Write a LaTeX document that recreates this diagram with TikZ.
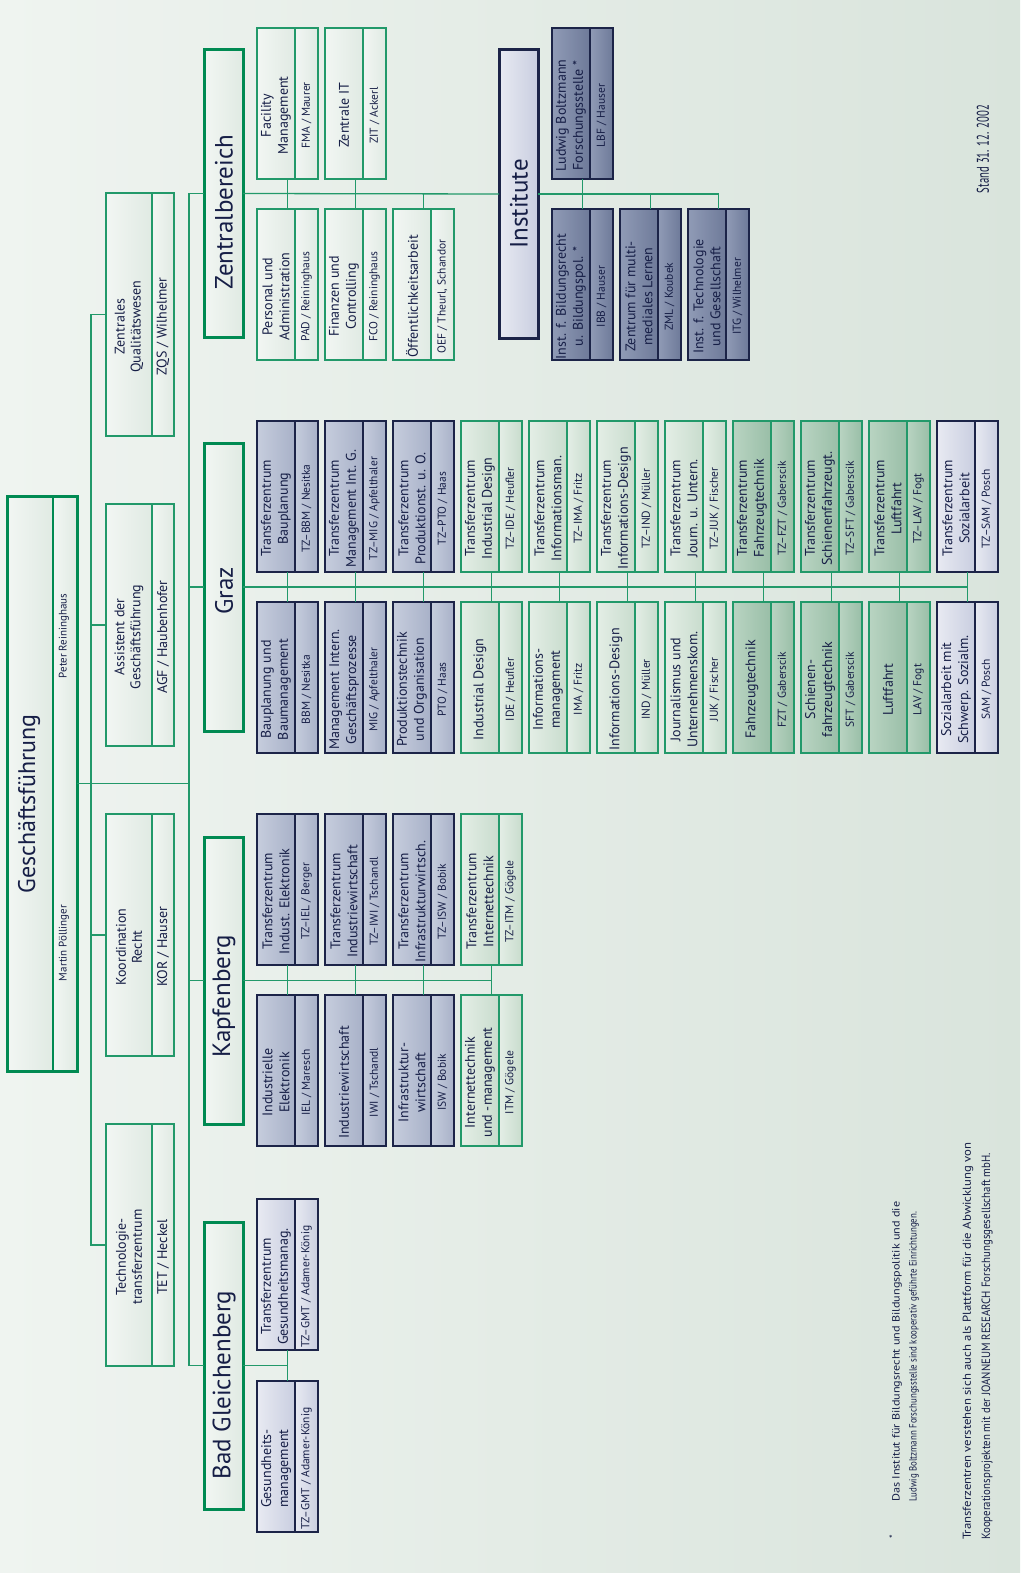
\documentclass[tikz,border=0pt]{standalone}
\usepackage{fontspec}
\usepackage{graphicx}
\setmainfont{PT Sans}
\usetikzlibrary{calc}

\definecolor{grn}{HTML}{22996A}
\definecolor{grnD}{HTML}{008A52}
\definecolor{navy}{HTML}{1C2448}
\definecolor{ink}{HTML}{161E46}
\definecolor{bgL}{HTML}{EFF4F0}
\definecolor{bgR}{HTML}{D9E4DC}
\definecolor{F2F6F3}{HTML}{F2F6F3}
\definecolor{E0EAE3}{HTML}{E0EAE3}
\definecolor{cBgL}{HTML}{C6CDDD}
\definecolor{cBgR}{HTML}{A8B1C8}
\definecolor{cBiL}{HTML}{909BB6}
\definecolor{cBiR}{HTML}{6E7A99}
\definecolor{cBlL}{HTML}{E8EAF2}
\definecolor{cBlR}{HTML}{C9CEE0}
\definecolor{cGlL}{HTML}{E4EEE6}
\definecolor{cGlR}{HTML}{C8DCCD}
\definecolor{cGmL}{HTML}{B9D4C2}
\definecolor{cGmR}{HTML}{99BEA7}

\tikzset{
  conn/.style={draw=grn, line width=1.3pt},
  boxframe/.style={draw, line width=1.3pt, inner sep=0pt, outer sep=0pt},
  thickframe/.style={draw, line width=3pt, inner sep=0pt, outer sep=0pt},
  maintxt/.style={rotate=90, align=center, text=ink, inner sep=0pt, font=\fontsize{14}{17}\selectfont},
  codetxt/.style={rotate=90, text=ink, inner sep=0pt, font=\fontsize{11.5}{13}\selectfont},
  stafftxt/.style={rotate=90, align=center, text=ink, inner sep=0pt, font=\fontsize{14}{16}\selectfont},
  staffcode/.style={rotate=90, text=ink, inner sep=0pt, font=\fontsize{14}{16}\selectfont},
  headtxt/.style={rotate=90, text=ink, inner sep=0pt, font=\fontsize{25}{28}\selectfont},
  notetxt/.style={rotate=90, anchor=west, text=ink, inner sep=0pt},
  % fills and rims of the box families
  pal gpale/.style={left color=F2F6F3, right color=E0EAE3},
  rim gpale/.style={draw=grn},
  pal bgray/.style={left color=cBgL, right color=cBgR},
  rim bgray/.style={draw=navy},
  pal binst/.style={left color=cBiL, right color=cBiR},
  rim binst/.style={draw=navy},
  pal blav/.style={left color=cBlL, right color=cBlR},
  rim blav/.style={draw=navy},
  pal glight/.style={left color=cGlL, right color=cGlR},
  rim glight/.style={draw=grn},
  pal gmed/.style={left color=cGmL, right color=cGmR},
  rim gmed/.style={draw=grn},
}

% standard unit box: name, left, top, palette, main text, code text
\newcommand\ubox[6]{%
  \shade[pal #4] (#2,#3) rectangle ++(38,151);
  \shade[pal #4] (#2+38,#3) rectangle ++(23,151);
  \node[boxframe, rim #4, minimum width=61pt, minimum height=151pt, anchor=north west] (#1) at (#2,#3) {};
  \draw[rim #4, line width=1.3pt] (#2+38,#3) -- ++(0,151);
  \node[maintxt] at (#2+19,#3+87.5) {#5};
  \node[codetxt] at (#2+49.5,#3+87.5) {#6};
}
% staff box: name, top, height, main text, code text
\newcommand\stafbox[5]{%
  \shade[pal gpale] (106,#2) rectangle ++(46,#3);
  \shade[pal gpale] (152,#2) rectangle ++(22,#3);
  \node[boxframe, rim gpale, minimum width=68pt, minimum height=#3pt, anchor=north west] (#1) at (106,#2) {};
  \draw[rim gpale, line width=1.3pt] (152,#2) -- ++(0,#3);
  \node[stafftxt] at (129,#2+#3/2+12) {#4};
  \node[staffcode] at (163,#2+#3/2+12) {#5};
}
% division header: name, left, top, height, palette, rim colour, text, text centre
\newcommand\headbox[8]{%
  \shade[pal #5] (#2,#3) rectangle ++(39,#4);
  \node[thickframe, draw=#6, minimum width=39pt, minimum height=#4pt, anchor=north west] (#1) at (#2,#3) {};
  \node[headtxt] at (#2+20,#8) {#7};
}

\begin{document}
\begin{tikzpicture}[x=1pt,y=-1pt]
\useasboundingbox (0,0) rectangle (1020,1573);
\shade[left color=bgL, right color=bgR] (0,0) rectangle (1020,1573);

% management
\shade[pal gpale] (7,496) rectangle (53,1071);
\shade[pal gpale] (53,496) rectangle (77,1071);
\node[thickframe, draw=grnD, minimum width=70pt, minimum height=575pt, anchor=north west] (gf) at (7,496) {};
\draw[grnD, line width=2.5pt] (53,496) -- (53,1071);
\node[headtxt, font=\fontsize{24}{26}\selectfont] at (29,804) {Geschäftsführung};
\node[codetxt, font=\fontsize{11}{12}\selectfont] at (64,636) {Peter Reininghaus};
\node[codetxt, font=\fontsize{11}{12}\selectfont] at (64,943) {Martin Pöllinger};

% staff units
\stafbox{zqs}{193}{243}{Zentrales\\Qualitätswesen}{ZQS / Wilhelmer}
\stafbox{agf}{504}{242}{Assistent der\\Geschäftsführung}{AGF / Haubenhofer}
\stafbox{kor}{814}{242}{Koordination\\Recht}{KOR / Hauser}
\stafbox{tet}{1124}{242}{Technologie-\\transferzentrum}{TET / Heckel}

% division headers
\headbox{zb}{204}{50}{287}{gpale}{grnD}{Zentralbereich}{212}
\headbox{graz}{204}{443}{288}{gpale}{grnD}{Graz}{591}
\headbox{kapf}{204}{837}{287}{gpale}{grnD}{Kapfenberg}{996}
\headbox{bg}{204}{1222}{287}{gpale}{grnD}{Bad Gleichenberg}{1385}
\headbox{inst}{499}{50}{288}{blav}{navy}{Institute}{204}

% Zentralbereich
\ubox{fma}{257}{28}{gpale}{Facility\\Management}{FMA / Maurer}
\ubox{zit}{325}{28}{gpale}{Zentrale IT}{ZIT / Ackerl}
\ubox{pad}{257}{209}{gpale}{Personal und\\Administration}{PAD / Reininghaus}
\ubox{fco}{325}{209}{gpale}{Finanzen und\\Controlling}{FCO / Reininghaus}
\ubox{oef}{393}{209}{gpale}{Öffentlichkeitsarbeit}{OEF / Theurl, Schandor}

% Institute
\ubox{lbf}{552}{28}{binst}{Ludwig Boltzmann\\Forschungsstelle *}{LBF / Hauser}
\ubox{ibb}{552}{209}{binst}{Inst. f. Bildungsrecht\\u. Bildungspol. *}{IBB / Hauser}
\ubox{zml}{620}{209}{binst}{Zentrum für multi-\\mediales Lernen}{ZML / Koubek}
\ubox{itg}{688}{209}{binst}{Inst. f. Technologie\\und Gesellschaft}{ITG / Wilhelmer}

% Graz, transfer centres
\ubox{g1t}{257}{421}{bgray}{Transferzentrum\\Bauplanung}{TZ–BBM / Nesitka}
\ubox{g2t}{325}{421}{bgray}{Transferzentrum\\Management Int. G.}{TZ–MIG / Apfelthaler}
\ubox{g3t}{393}{421}{bgray}{Transferzentrum\\Produktionst. u. O.}{TZ–PTO / Haas}
\ubox{g4t}{461}{421}{glight}{Transferzentrum\\Industrial Design}{TZ–IDE / Heufler}
\ubox{g5t}{529}{421}{glight}{Transferzentrum\\Informationsman.}{TZ–IMA / Fritz}
\ubox{g6t}{597}{421}{glight}{Transferzentrum\\Informations-Design}{TZ–IND / Müller}
\ubox{g7t}{665}{421}{glight}{Transferzentrum\\Journ. u. Untern.}{TZ–JUK / Fischer}
\ubox{g8t}{733}{421}{gmed}{Transferzentrum\\Fahrzeugtechnik}{TZ–FZT / Gaberscik}
\ubox{g9t}{801}{421}{gmed}{Transferzentrum\\Schienenfahrzeugt.}{TZ–SFT / Gaberscik}
\ubox{g10t}{869}{421}{gmed}{Transferzentrum\\Luftfahrt}{TZ–LAV / Fogt}
\ubox{g11t}{937}{421}{blav}{Transferzentrum\\Sozialarbeit}{TZ–SAM / Posch}
% Graz, degree programmes
\ubox{g1b}{257}{602}{bgray}{Bauplanung und\\Baumanagement}{BBM / Nesitka}
\ubox{g2b}{325}{602}{bgray}{Management Intern.\\Geschäftsprozesse}{MIG / Apfelthaler}
\ubox{g3b}{393}{602}{bgray}{Produktionstechnik\\und Organisation}{PTO / Haas}
\ubox{g4b}{461}{602}{glight}{Industrial Design}{IDE / Heufler}
\ubox{g5b}{529}{602}{glight}{Informations-\\management}{IMA / Fritz}
\ubox{g6b}{597}{602}{glight}{Informations-Design}{IND / Müller}
\ubox{g7b}{665}{602}{glight}{Journalismus und\\Unternehmenskom.}{JUK / Fischer}
\ubox{g8b}{733}{602}{gmed}{Fahrzeugtechnik}{FZT / Gaberscik}
\ubox{g9b}{801}{602}{gmed}{Schienen-\\fahrzeugtechnik}{SFT / Gaberscik}
\ubox{g10b}{869}{602}{gmed}{Luftfahrt}{LAV / Fogt}
\ubox{g11b}{937}{602}{blav}{Sozialarbeit mit\\Schwerp. Sozialm.}{SAM / Posch}

% Kapfenberg
\ubox{k1t}{257}{814}{bgray}{Transferzentrum\\Indust. Elektronik}{TZ–IEL / Berger}
\ubox{k2t}{325}{814}{bgray}{Transferzentrum\\Industriewirtschaft}{TZ–IWI / Tschandl}
\ubox{k3t}{393}{814}{bgray}{Transferzentrum\\Infrastrukturwirtsch.}{TZ–ISW / Bobik}
\ubox{k4t}{461}{814}{glight}{Transferzentrum\\Internettechnik}{TZ–ITM / Gögele}
\ubox{k1b}{257}{995}{bgray}{Industrielle\\Elektronik}{IEL / Maresch}
\ubox{k2b}{325}{995}{bgray}{Industriewirtschaft}{IWI / Tschandl}
\ubox{k3b}{393}{995}{bgray}{Infrastruktur-\\wirtschaft}{ISW / Bobik}
\ubox{k4b}{461}{995}{glight}{Internettechnik\\und -management}{ITM / Gögele}

% Bad Gleichenberg
\ubox{bgt}{257}{1199}{blav}{Transferzentrum\\Gesundheitsmanag.}{TZ–GMT / Adamer-König}
\ubox{bgb}{257}{1381}{blav}{Gesundheits-\\management}{TZ–GMT / Adamer-König}

% connectors: management, staff and divisions
\draw[conn] (zqs.west) -- ++(-15,0) |- (tet.west);
\draw[conn] (agf.west) -- ++(-15,0);
\draw[conn] (kor.west) -- ++(-15,0);
\draw[conn] (zb.west) -- ++(-15,0) coordinate (dbus) |- (bg.west);
\draw[conn] (graz.west) -- ++(-15,0);
\draw[conn] (kapf.west) -- ++(-15,0);
\draw[conn] (gf.east) -- (gf.east -| dbus);

% connectors: Zentralbereich and Institute
\draw[conn] (zb.east) -- (inst.west);
\draw[conn] (inst.east) -- (itg.north |- inst.east);
\draw[conn] (fma.south) -- (pad.north);
\draw[conn] (zit.south) -- (fco.north);
\draw[conn] (oef.north) -- (oef.north |- zb.east);
\draw[conn] (lbf.south) -- (ibb.north);
\draw[conn] (zml.north) -- (zml.north |- inst.east);
\draw[conn] (itg.north) -- (itg.north |- inst.east);

% connectors: Graz
\draw[conn] (graz.east) -- (g11t.south |- graz.east);
\foreach \i in {1,...,11} { \draw[conn] (g\i t.south) -- (g\i b.north); }
% connectors: Kapfenberg
\draw[conn] (kapf.east) -- (k4t.south |- kapf.east);
\foreach \i in {1,...,4} { \draw[conn] (k\i t.south) -- (k\i b.north); }
% connectors: Bad Gleichenberg
\draw[conn] (bg.east) -- (bgt.south |- bg.east);
\draw[conn] (bgt.south) -- (bgb.north);

% date and notes
\node[rotate=90, text=ink, inner sep=0pt] (stand) at (983,149)
  {\resizebox{88pt}{\height}{\fontsize{17}{17}\selectfont Stand 31. 12. 2002}};
\node[rotate=90, text=ink, inner sep=0pt, font=\fontsize{10}{12}\selectfont] (star) at (893,1537) {*};
\node[notetxt] (n1) at (897,1502)
  {\resizebox{300pt}{\height}{\fontsize{10.5}{12}\selectfont Das Institut für Bildungsrecht und Bildungspolitik und die}};
\node[notetxt] (n2) at (914,1502)
  {\resizebox{290pt}{\height}{\fontsize{10.5}{12}\selectfont Ludwig Boltzmann Forschungsstelle sind kooperativ geführte Einrichtungen.}};
\node[notetxt] (n3) at (968,1540)
  {\resizebox{397pt}{\height}{\fontsize{11.5}{13}\selectfont Transferzentren verstehen sich auch als Plattform für die Abwicklung von}};
\node[notetxt] (n4) at (987,1540)
  {\resizebox{387pt}{\height}{\fontsize{12}{13}\selectfont Kooperationsprojekten mit der JOANNEUM RESEARCH Forschungsgesellschaft mbH.}};
\end{tikzpicture}
\end{document}
